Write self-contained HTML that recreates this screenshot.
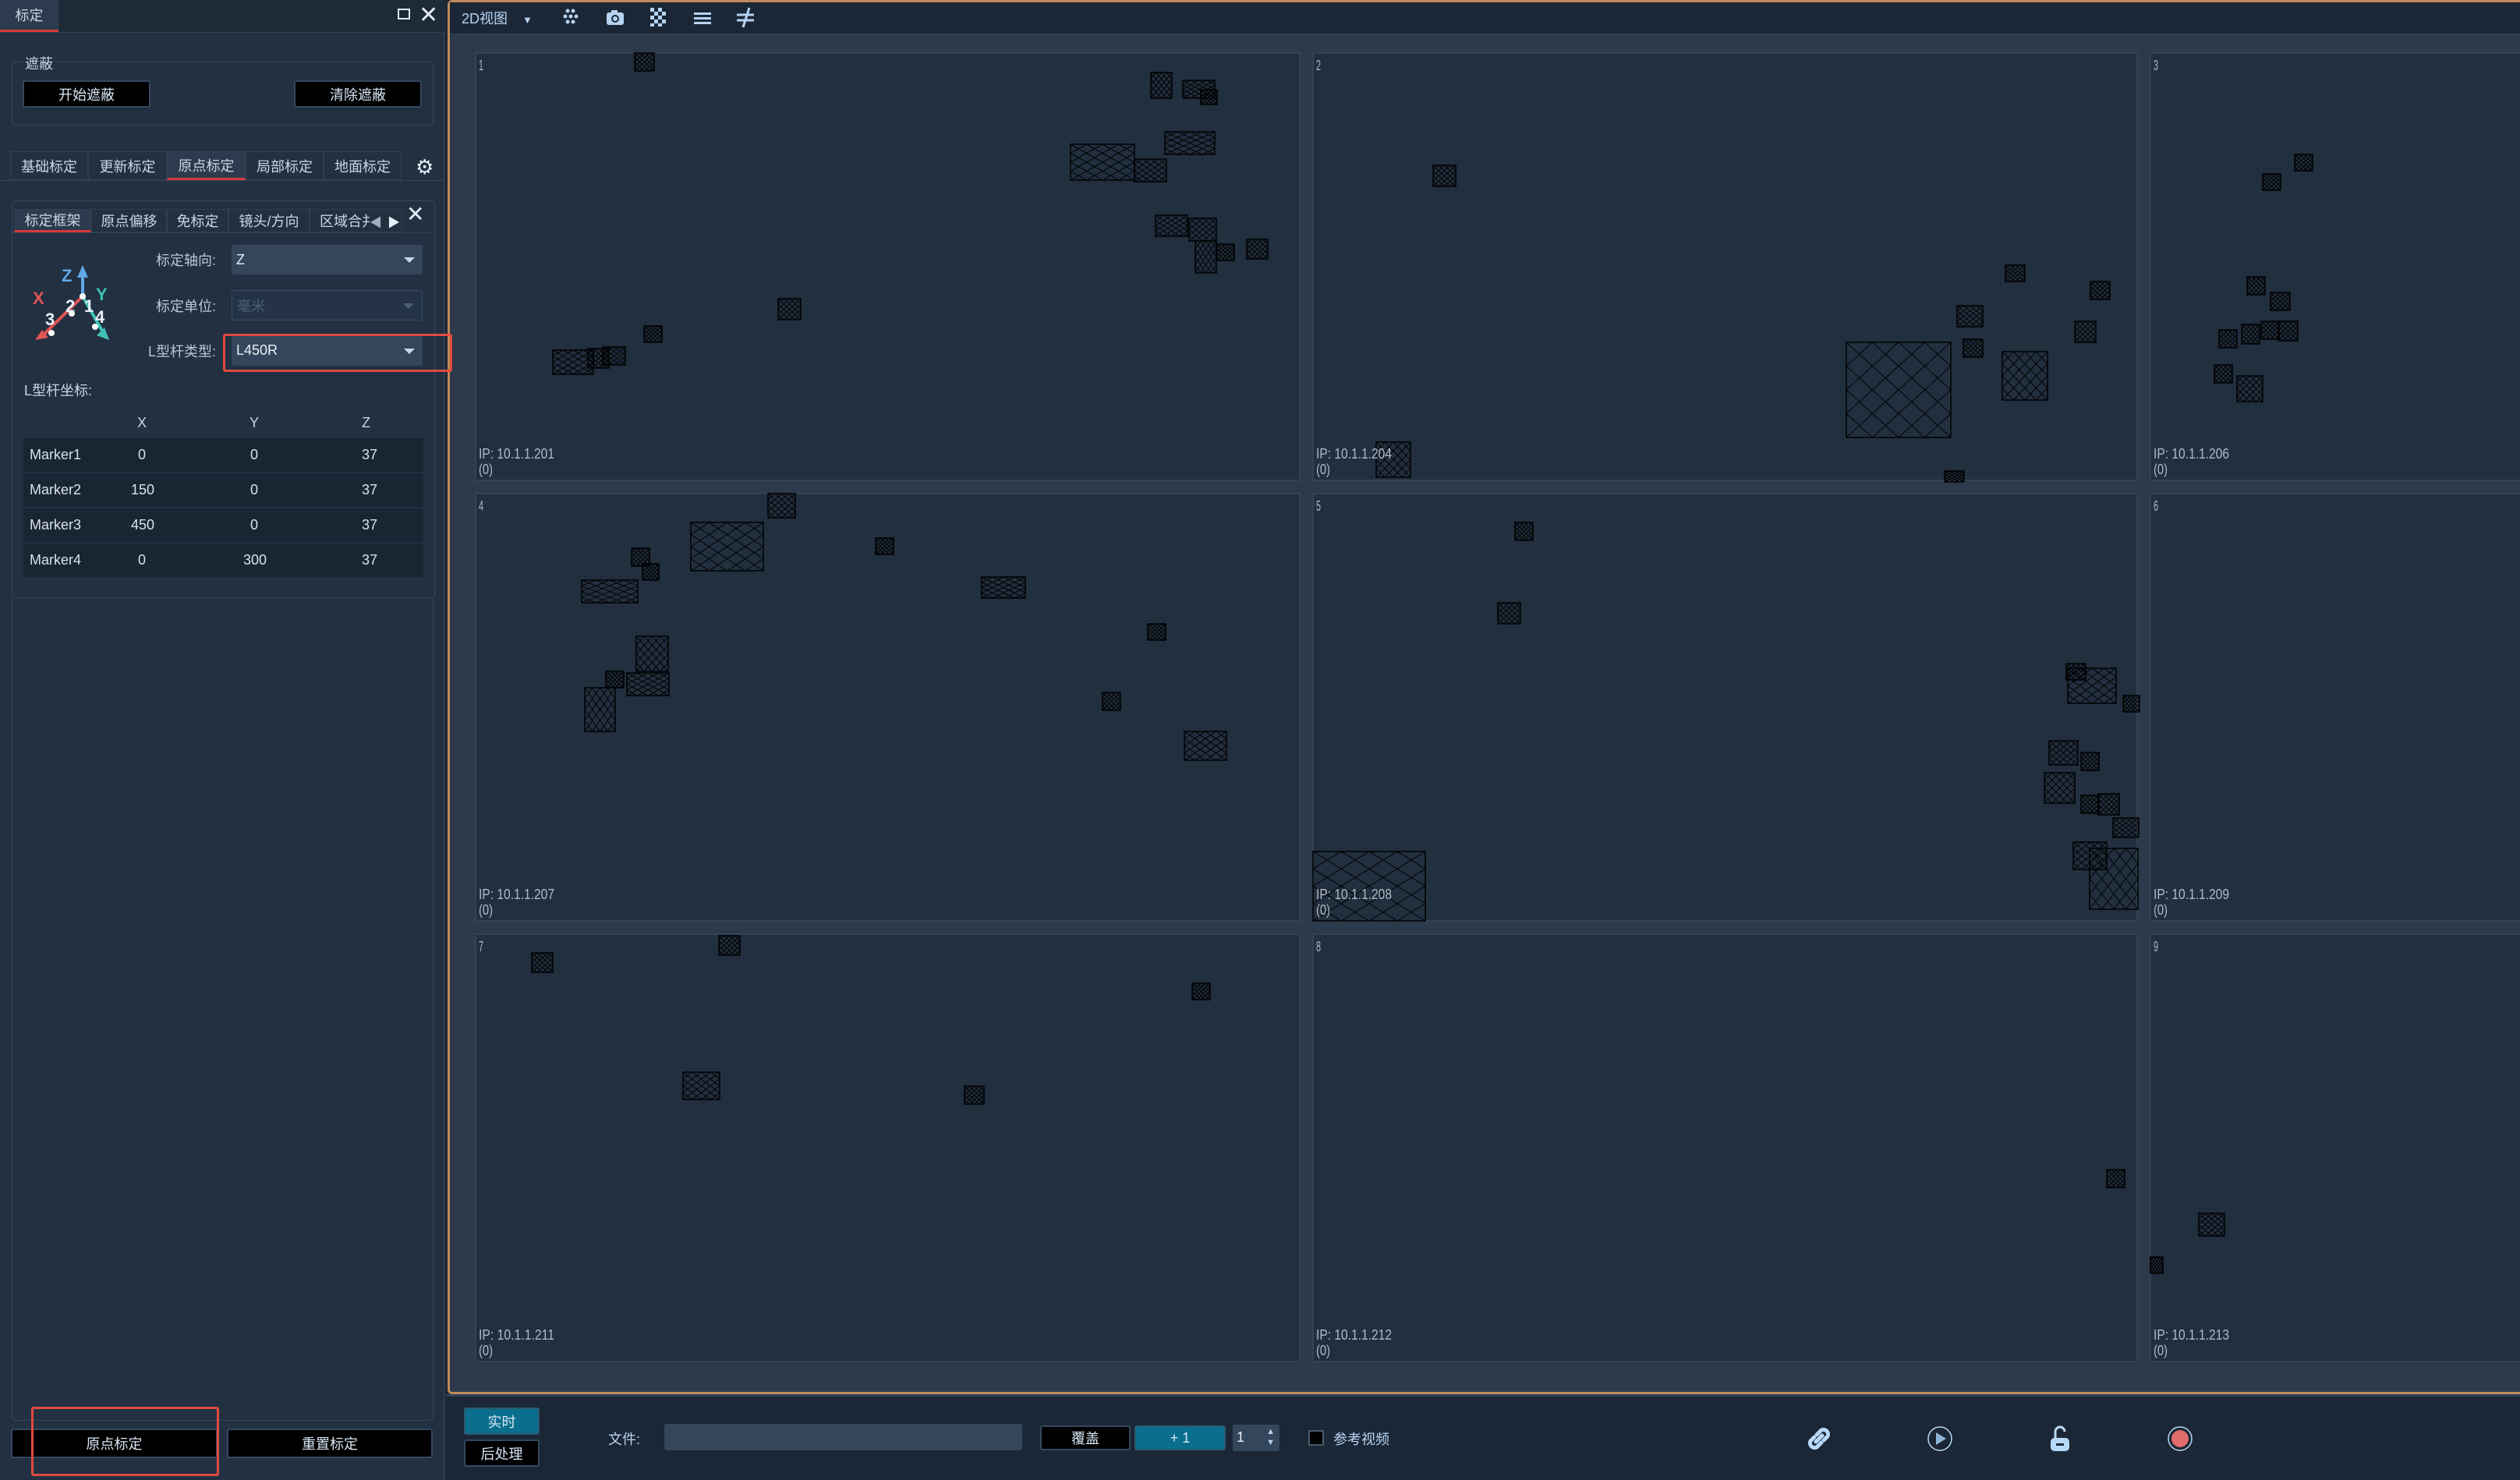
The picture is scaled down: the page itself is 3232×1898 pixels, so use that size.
<!DOCTYPE html>
<html><head><meta charset="utf-8">
<style>
*{box-sizing:border-box;margin:0;padding:0}
body{width:3232px;height:1898px;background:#1b2736;position:relative;overflow:hidden;font-family:"Liberation Sans","Noto Sans CJK SC",sans-serif;color:#c9d6e6}
.a{position:absolute}
.btn{position:absolute;display:flex;align-items:center;justify-content:center;font-size:18px;color:#d8e6f5;border:2px solid #34485e;border-radius:3px;background:#000}
.tab{position:absolute;display:flex;align-items:center;justify-content:center;font-size:18px;color:#c9d6e6;background:#22303f;border:1px solid #2f4052}
.lbl{position:absolute;font-size:18px;color:#b9c6d6;text-align:right}
.dd{position:absolute;background:#34465b;border-radius:3px;font-size:18px;color:#e8eef6;padding-left:6px;display:flex;align-items:center}
.dd .ar{position:absolute;right:10px;top:50%;margin-top:-3px;border-left:7px solid transparent;border-right:7px solid transparent;border-top:7px solid #c9d6e6}
.row{position:absolute;left:30px;width:513px;height:43px;background:#1a2533;font-size:18px;color:#d8e2ee}
.row span{position:absolute;top:11px}
</style></head><body>
<!-- left panel -->
<div class="a" style="left:0;top:0;width:571px;height:1898px;background:#223041;border-right:2px solid #2d3c4d"></div>
<div class="a" style="left:0;top:0;width:571px;height:42px;background:#1d2a38;border-bottom:1px solid #314356"></div>
<div class="a" style="left:0;top:0;width:75px;height:41px;background:#2c3b4d;border-bottom:3px solid #d83a3a;font-size:18px;display:flex;align-items:center;justify-content:center">标定</div>
<div class="a" style="left:510px;top:11px;width:16px;height:14px;border:2px solid #dfe7f0"></div>
<div class="a" style="left:537px;top:2px;font-size:30px;color:#dfe7f0">✕</div>

<div class="a" style="left:15px;top:79px;width:541px;height:82px;border:1px solid #35475b;border-radius:6px"></div>
<div class="a" style="left:28px;top:68px;padding:0 4px;background:#223041;font-size:18px">遮蔽</div>
<div class="btn" style="left:29px;top:103px;width:164px;height:35px">开始遮蔽</div>
<div class="btn" style="left:377px;top:103px;width:164px;height:35px">清除遮蔽</div>

<div class="a" style="left:0;top:231px;width:571px;height:1px;background:#314356"></div>
<div class="tab" style="left:13px;top:194px;width:100px;height:37px">基础标定</div>
<div class="tab" style="left:113px;top:194px;width:101px;height:37px">更新标定</div>
<div class="tab" style="left:214px;top:194px;width:101px;height:37px;background:#2c3b4d;border-bottom:3px solid #d83a3a">原点标定</div>
<div class="tab" style="left:315px;top:194px;width:100px;height:37px">局部标定</div>
<div class="tab" style="left:415px;top:194px;width:100px;height:37px">地面标定</div>
<div class="a" style="left:533px;top:199px;font-size:26px;color:#e6eef7">⚙</div>

<div class="a" style="left:15px;top:257px;width:543px;height:510px;border:1px solid #35475b;border-radius:4px;background:#223041"></div>
<div class="a" style="left:15px;top:767px;width:541px;height:1055px;border:1px solid #35475b;border-top:none;border-radius:0 0 6px 6px"></div>
<div class="a" style="left:16px;top:298px;width:541px;height:1px;background:#314356"></div>
<div class="tab" style="left:18px;top:268px;width:99px;height:30px;background:#2c3b4d;border-bottom:3px solid #d83a3a">标定框架</div>
<div class="tab" style="left:117px;top:268px;width:97px;height:30px">原点偏移</div>
<div class="tab" style="left:214px;top:268px;width:79px;height:30px">免标定</div>
<div class="tab" style="left:293px;top:268px;width:104px;height:30px">镜头/方向</div>
<div class="tab" style="left:397px;top:268px;width:119px;height:30px;justify-content:flex-start;padding-left:12px;overflow:hidden">区域合并</div>
<div class="a" style="left:474px;top:272px;font-size:16px;color:#9fb0c2;background:#22303f">◀</div>
<div class="a" style="left:497px;top:272px;font-size:16px;color:#e6eef7">▶</div>
<div class="a" style="left:521px;top:258px;font-size:28px;color:#e6eef7">✕</div>

<svg class="a" style="left:35px;top:330px" width="120" height="110" viewBox="35 330 120 110">
 <line x1="106" y1="380" x2="106" y2="352" stroke="#5fa9e8" stroke-width="4"/>
 <polygon points="99,356 113,356 106,340" fill="#5fa9e8"/>
 <line x1="106" y1="380" x2="57" y2="428" stroke="#e05555" stroke-width="4"/>
 <polygon points="45,436 62,433 54,423" fill="#e05555"/>
 <line x1="106" y1="380" x2="132" y2="426" stroke="#3fc2b5" stroke-width="4"/>
 <polygon points="140,436 124,430 134,420" fill="#3fc2b5"/>
 <circle cx="106" cy="380" r="4" fill="#fff"/><circle cx="92" cy="402" r="4" fill="#fff"/><circle cx="66" cy="427" r="4" fill="#fff"/><circle cx="122" cy="419" r="4" fill="#fff"/>
 <text x="79" y="361" font-size="22" font-weight="bold" fill="#5fa9e8" font-family="Liberation Sans">Z</text>
 <text x="123" y="385" font-size="22" font-weight="bold" fill="#3fc2b5" font-family="Liberation Sans">Y</text>
 <text x="42" y="390" font-size="22" font-weight="bold" fill="#e05555" font-family="Liberation Sans">X</text>
 <text x="58" y="417" font-size="22" font-weight="bold" fill="#e6eef7" font-family="Liberation Sans">3</text>
 <text x="84" y="400" font-size="22" font-weight="bold" fill="#e6eef7" font-family="Liberation Sans">2</text>
 <text x="108" y="400" font-size="22" font-weight="bold" fill="#e6eef7" font-family="Liberation Sans">1</text>
 <text x="122" y="414" font-size="22" font-weight="bold" fill="#e6eef7" font-family="Liberation Sans">4</text>
</svg>

<div class="lbl" style="left:150px;top:320px;width:127px">标定轴向:</div>
<div class="dd" style="left:297px;top:314px;width:245px;height:38px">Z<span class="ar"></span></div>
<div class="lbl" style="left:150px;top:379px;width:127px">标定单位:</div>
<div class="dd" style="left:297px;top:372px;width:245px;height:39px;background:#243345;border:1px solid #3a4e66;color:#4a5f77">毫米<span class="ar" style="border-top-color:#4a5f77"></span></div>
<div class="lbl" style="left:150px;top:437px;width:127px">L型杆类型:</div>
<div class="dd" style="left:297px;top:430px;width:245px;height:39px">L450R<span class="ar"></span></div>

<div class="a" style="left:31px;top:487px;font-size:18px">L型杆坐标:</div>
<div class="a" style="left:176px;top:532px;font-size:18px">X</div>
<div class="a" style="left:320px;top:532px;font-size:18px">Y</div>
<div class="a" style="left:464px;top:532px;font-size:18px">Z</div>
<div class="row" style="top:562px"><span style="left:8px">Marker1</span><span style="left:147px">0</span><span style="left:291px">0</span><span style="left:434px">37</span></div>
<div class="row" style="top:607px"><span style="left:8px">Marker2</span><span style="left:138px">150</span><span style="left:291px">0</span><span style="left:434px">37</span></div>
<div class="row" style="top:652px"><span style="left:8px">Marker3</span><span style="left:138px">450</span><span style="left:291px">0</span><span style="left:434px">37</span></div>
<div class="row" style="top:697px"><span style="left:8px">Marker4</span><span style="left:147px">0</span><span style="left:282px">300</span><span style="left:434px">37</span></div>

<div class="btn" style="left:14px;top:1832px;width:265px;height:38px">原点标定</div>
<div class="btn" style="left:291px;top:1832px;width:264px;height:38px">重置标定</div>
<div class="a" style="left:40px;top:1804px;width:241px;height:89px;border:3px solid #e04a3f;border-radius:3px"></div>

<!-- view area -->
<div class="a" style="left:574px;top:0;width:2658px;height:1788px;background:#2c3a4b;border:3px solid #c08a5a;border-right:none;border-radius:6px 0 0 6px"></div>
<div class="a" style="left:577px;top:3px;width:2655px;height:41px;background:#1b2736;border-bottom:1px solid #31475e"></div>
<div class="a" style="left:592px;top:10px;font-size:18px;color:#b7d3f2">2D视图 <span style="font-size:13px;margin-left:14px">▼</span></div>
<svg class="a" style="left:720px;top:8px" width="260" height="30">
 <g fill="#b7d3f2"><circle cx="8" cy="6" r="2.5"/><circle cx="15" cy="6" r="2.5"/><circle cx="5" cy="13" r="2.5"/><circle cx="12" cy="13" r="2.5"/><circle cx="19" cy="13" r="2.5"/><circle cx="8" cy="20" r="2.5"/><circle cx="15" cy="20" r="2.5"/></g>
 <g transform="translate(58,3)"><rect x="0" y="5" width="22" height="16" rx="3" fill="#b7d3f2"/><rect x="6" y="2" width="8" height="4" fill="#b7d3f2"/><circle cx="11" cy="13" r="5" fill="#1b2736"/><circle cx="11" cy="13" r="3" fill="#b7d3f2"/></g>
 <g transform="translate(114,2)" fill="#b7d3f2"><rect x="0" y="0" width="5" height="5"/><rect x="10" y="0" width="5" height="5"/><rect x="5" y="5" width="5" height="5"/><rect x="15" y="5" width="5" height="5"/><rect x="0" y="10" width="5" height="5"/><rect x="10" y="10" width="5" height="5"/><rect x="5" y="15" width="5" height="5"/><rect x="15" y="15" width="5" height="5"/><rect x="0" y="20" width="5" height="4"/><rect x="10" y="20" width="5" height="4"/></g>
 <g transform="translate(170,6)" fill="#b7d3f2"><rect x="0" y="2" width="22" height="3"/><rect x="0" y="8" width="22" height="3"/><rect x="0" y="14" width="22" height="3"/></g>
 <g transform="translate(225,2)" stroke="#b7d3f2" stroke-width="3"><line x1="0" y1="9" x2="22" y2="9"/><line x1="0" y1="16" x2="22" y2="16"/><line x1="16" y1="0" x2="8" y2="25"/></g>
</svg>

<svg id="grid" class="a" style="left:0;top:0" width="3232" height="1790">
 <defs id="defs"></defs>
 <g id="cells"></g>
 <g id="marks"></g>
 <g id="labels"></g>
</svg>

<div class="a" style="left:286px;top:428px;width:294px;height:49px;border:3px solid #e04a3f;border-radius:3px"></div>

<!-- bottom bar -->
<div class="a" style="left:572px;top:1788px;width:2660px;height:3px;background:#2f4257"></div>
<div class="btn" style="left:595px;top:1805px;width:97px;height:35px;background:#0a6f8c;border-color:#2a5a70">实时</div>
<div class="btn" style="left:595px;top:1846px;width:97px;height:35px">后处理</div>
<div class="a" style="left:780px;top:1832px;font-size:18px;color:#b7d3f2">文件:</div>
<div class="a" style="left:852px;top:1826px;width:459px;height:34px;background:#34465b;border-radius:3px"></div>
<div class="btn" style="left:1334px;top:1828px;width:116px;height:32px">覆盖</div>
<div class="btn" style="left:1455px;top:1828px;width:117px;height:32px;background:#0a6f8c;border-color:#2a5a70">+ 1</div>
<div class="a" style="left:1581px;top:1827px;width:60px;height:34px;background:#34465b;border-radius:3px;font-size:18px;color:#e8eef6;padding:6px 0 0 5px">1<span style="position:absolute;right:6px;top:2px;font-size:11px;color:#b7d3f2;line-height:14px">▲<br>▼</span></div>
<div class="a" style="left:1678px;top:1834px;width:20px;height:20px;background:#000;border:2px solid #4a5c70"></div>
<div class="a" style="left:1710px;top:1832px;font-size:18px;color:#b7d3f2">参考视频</div>
<svg class="a" style="left:2316px;top:1828px" width="34" height="34" viewBox="0 0 34 34"><g fill="none" stroke="#b7d9f7" stroke-width="5" stroke-linecap="round"><path d="M14 12 L20 6 A6 6 0 0 1 28 14 L23 19"/><path d="M20 22 L14 28 A6 6 0 0 1 6 20 L11 15"/><line x1="13" y1="21" x2="21" y2="13"/></g></svg>
<svg class="a" style="left:2471px;top:1828px" width="34" height="34"><ellipse cx="17" cy="17" rx="15" ry="15" fill="none" stroke="#b7d9f7" stroke-width="1.5"/><polygon points="12,9 25,17 12,25" fill="#8fb6d8"/></svg>
<svg class="a" style="left:2627px;top:1828px" width="30" height="34"><path d="M9 16 V8 A6 6 0 0 1 21 8" fill="none" stroke="#b7d9f7" stroke-width="3"/><rect x="3" y="16" width="24" height="17" rx="5" fill="#b7d9f7"/><rect x="10" y="23" width="10" height="3" fill="#1b2736"/></svg>
<svg class="a" style="left:2779px;top:1828px" width="34" height="34"><ellipse cx="17" cy="17" rx="15" ry="15" fill="none" stroke="#b7d9f7" stroke-width="1.5"/><ellipse cx="17" cy="17" rx="11" ry="11" fill="#e06c6c"/></svg>

<script>
const cellLabels=["1","2","3","4","5","6","7","8","9"];
const cellIps=["10.1.1.201","10.1.1.204","10.1.1.206","10.1.1.207","10.1.1.208","10.1.1.209","10.1.1.211","10.1.1.212","10.1.1.213"];
// hatched mask rectangles in screen px: [x, y, w, h]
const maskRects=[
[814,68,25,23],[1476,93,27,33],[1517,103,41,23],[1540,115,21,19],[1373,185,82,46],[1455,204,41,29],[1494,169,64,29],[1482,276,41,27],[1525,280,35,29],[1533,309,27,41],[1560,313,23,21],[1599,307,27,25],[998,383,29,27],[826,418,23,21],[709,449,52,31],[754,447,27,25],[773,445,29,23],
[1838,212,29,27],[2572,340,25,21],[2681,361,25,23],[2510,392,33,27],[2661,412,27,27],[2518,435,25,23],[2368,439,134,122],[2568,451,58,62],[1765,567,44,45],[2494,604,25,14],
[2943,198,23,21],[2902,223,23,21],[2882,355,23,23],[2912,375,25,23],[2846,423,23,23],[2875,416,23,25],[2900,412,23,23],[2922,412,25,25],[2840,468,23,23],[2869,482,33,33],
[985,633,35,31],[886,670,93,62],[810,703,23,23],[824,723,21,21],[746,744,72,29],[1123,690,23,21],[1259,740,56,27],[816,816,41,45],[777,861,23,21],[804,863,54,29],[750,882,39,56],[1472,800,23,21],[1414,888,23,23],[1519,938,54,37],
[1943,670,23,23],[1921,773,29,27],[2650,851,25,21],[2652,857,62,45],[2723,892,21,21],[2628,950,37,31],[2669,965,23,23],[2622,991,39,39],[2669,1020,23,23],[2691,1018,27,27],[2710,1049,33,25],[2659,1080,43,35],[2680,1088,62,78],[1684,1092,144,89],
[682,1222,27,25],[922,1200,27,25],[1529,1261,23,21],[876,1375,47,35],[1237,1393,25,23],
[2702,1500,23,23],
[2820,1556,33,29],[2758,1612,16,21]
];
const NS="http://www.w3.org/2000/svg";
const colX=[610,1684,2758], rowY=[68,633,1198], cw=1057, ch=548;
const cells=document.getElementById('cells'), marks=document.getElementById('marks'), labels=document.getElementById('labels'), defs=document.getElementById('defs');
function txt(x,y,s,len){
  const t=document.createElementNS(NS,'text');
  t.setAttribute('x',x);t.setAttribute('y',y);t.setAttribute('fill','#b0bac6');t.setAttribute('font-size','18');
  t.setAttribute('font-family','Liberation Sans Narrow, Liberation Sans, sans-serif');
  if(len){t.setAttribute('textLength',len);t.setAttribute('lengthAdjust','spacingAndGlyphs');}
  t.textContent=s;return t;
}
for(let i=0;i<9;i++){
  const x=colX[i%3], y=rowY[Math.floor(i/3)];
  const r=document.createElementNS(NS,'rect');
  r.setAttribute('x',x);r.setAttribute('y',y);r.setAttribute('width',Math.min(cw,3232-x+2));r.setAttribute('height',ch);
  r.setAttribute('fill','#212f3f');r.setAttribute('stroke','#36485b');r.setAttribute('stroke-width','1.5');
  
  
  cells.appendChild(r);
  const t=txt(x+4,y+22,cellLabels[i],6);
  
  
  labels.appendChild(t);
  const ip=txt(x+4,y+520,'IP: '+cellIps[i],97);
  
  
  labels.appendChild(ip);
  const z=txt(x+4,y+540,'(0)',18);
  
  
  labels.appendChild(z);
}
maskRects.forEach((m,k)=>{
  const p=document.createElementNS(NS,'pattern');
  const pw=m[2]/4, ph=m[3]/4;
  p.setAttribute('id','h'+k);p.setAttribute('patternUnits','userSpaceOnUse');
  p.setAttribute('x',m[0]);p.setAttribute('y',m[1]);p.setAttribute('width',pw);p.setAttribute('height',ph);
  const pa=document.createElementNS(NS,'path');
  pa.setAttribute('d','M0 0 L'+pw+' '+ph+' M'+pw+' 0 L0 '+ph);
  pa.setAttribute('stroke','#000');pa.setAttribute('stroke-width','1');pa.setAttribute('fill','none');
  p.appendChild(pa);defs.appendChild(p);
  const r=document.createElementNS(NS,'rect');
  r.setAttribute('x',m[0]);r.setAttribute('y',m[1]);r.setAttribute('width',m[2]);r.setAttribute('height',m[3]);
  r.setAttribute('fill','url(#h'+k+')');r.setAttribute('stroke','#000');r.setAttribute('stroke-width','1.5');
  
  
  marks.appendChild(r);
});
</script>
</body></html>
